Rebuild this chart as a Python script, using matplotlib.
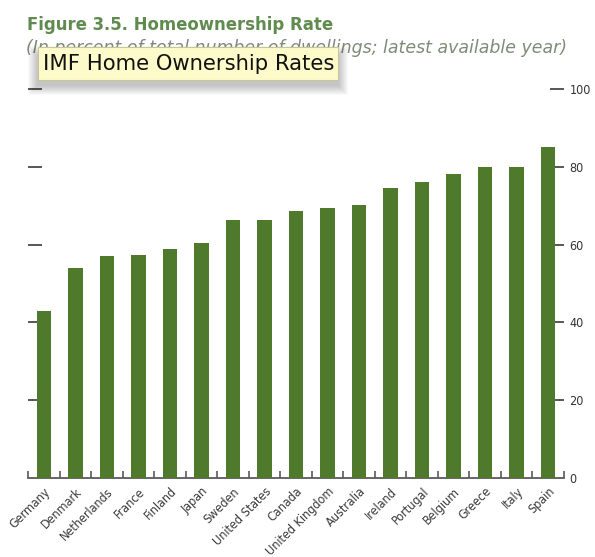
import matplotlib
matplotlib.use("Agg")
import matplotlib.pyplot as plt
from matplotlib.patches import Rectangle
from matplotlib.ticker import FixedLocator
import numpy as np

countries = ["Germany", "Denmark", "Netherlands", "France", "Finland", "Japan",
             "Sweden", "United States", "Canada", "United Kingdom", "Australia",
             "Ireland", "Portugal", "Belgium", "Greece", "Italy", "Spain"]
rates = [43.0, 53.9, 57.1, 57.4, 58.9, 60.4, 66.3, 66.3, 68.6, 69.5, 70.1,
         74.5, 76.0, 78.2, 80.0, 80.0, 85.0]
yticks = [0, 20, 40, 60, 80, 100]

title = "Figure 3.5. Homeownership Rate"
subtitle = "(In percent of total number of dwellings; latest available year)"
tooltip = "IMF Home Ownership Rates"

W, H = 595, 557
BAR_COLOR = "#4f7a2b"
TICK_COLOR = "#4a4a4a"


def fx(px):
    return px / W


def fy(py):
    # image y (from top) -> figure fraction
    return 1 - py / H


fig = plt.figure(figsize=(W / 100, H / 100), dpi=100)
ax = fig.add_axes([fx(28), fy(478), fx(564) - fx(28), fy(89) - fy(478)])

x = np.arange(len(countries))
ax.bar(x, rates, width=0.46, color=BAR_COLOR, zorder=3)
ax.set_axisbelow(True)

ax.set_xlim(-0.5, len(countries) - 0.5)
ax.set_ylim(0, 100)

for side in ["top", "left", "right"]:
    ax.spines[side].set_visible(False)
ax.spines["bottom"].set_color("#5a5a5a")
ax.spines["bottom"].set_linewidth(1.3)

# x axis: labels at bar centres, little tick marks between bars
ax.set_xticks(x)
ax.set_xticklabels(countries, rotation=45, ha="right", rotation_mode="anchor",
                   family="DejaVu Sans", stretch="condensed", fontsize=9,
                   color="#3a3a3a")
ax.tick_params(axis="x", which="major", length=0, pad=5)
ax.xaxis.set_minor_locator(FixedLocator(np.arange(-0.5, len(countries), 1.0)))
ax.tick_params(axis="x", which="minor", direction="in", length=5,
               width=1.2, color="#5a5a5a")

# y axis: inward dashes on both sides, labels on the right only
ax.set_yticks(yticks)
ax.tick_params(axis="y", which="major", direction="in", length=10, width=1.3,
               color=TICK_COLOR, left=True, right=True,
               labelleft=False, labelright=True, pad=4)
for lab in ax.get_yticklabels():
    lab.set_family("DejaVu Sans")
    lab.set_stretch("condensed")
    lab.set_fontsize(9)
    lab.set_color("#333333")
# no dash at 0 (the axis line is there)
ax.yaxis.get_major_ticks()[0].tick1line.set_visible(False)
ax.yaxis.get_major_ticks()[0].tick2line.set_visible(False)

# titles
fig.text(fx(27), fy(30), title, fontsize=13.2, fontweight="bold",
         family="DejaVu Sans", stretch="condensed", color="#608b4e",
         ha="left", va="baseline")
fig.text(fx(26), fy(53), subtitle, fontsize=12.5, style="italic",
         family="DejaVu Sans", color="#7f8a78", ha="left", va="baseline")

# tooltip with a soft drop shadow
bx0, by_top, bw, bh = 38, 47, 300, 33
for i in range(10):
    grow = 10 - i
    fig.patches.append(Rectangle((fx(bx0 - grow), fy(by_top + bh + 5 + grow)),
                                 fx(bw + 2 * grow), fy(0) - fy(bh + 2 * grow - 4),
                                 transform=fig.transFigure, facecolor="black",
                                 edgecolor="none", alpha=0.025, zorder=5))
fig.patches.append(Rectangle((fx(bx0), fy(by_top + bh)), fx(bw), fy(0) - fy(bh),
                             transform=fig.transFigure, facecolor="#fdfbc9",
                             edgecolor="#c9c59a", linewidth=0.8, zorder=6))
fig.text(fx(43), fy(by_top + bh / 2 + 1), tooltip, fontsize=15.2,
         family="DejaVu Sans", color="#111111", ha="left", va="center",
         zorder=7)

fig.savefig("out.png", dpi=100)
